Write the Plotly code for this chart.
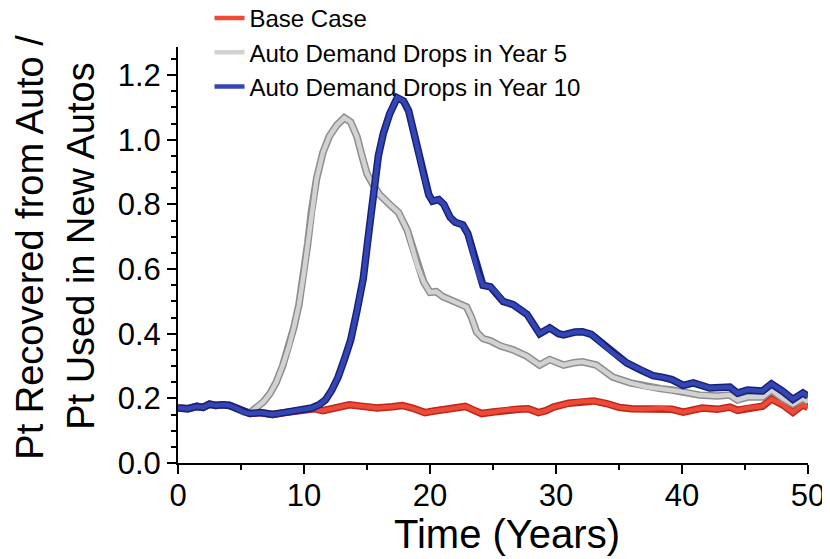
import plotly.graph_objects as go

# ---------------- data ----------------
base_years = [0, 0.8, 1.5, 2.0, 2.5, 3.0, 3.5, 4.1, 4.6, 5.2, 5.7, 6.5, 7.5, 8.3, 9.0, 10.0,
              10.8, 11.5, 12.5, 13.6, 14.5, 15.8, 17.0, 17.8, 18.6, 19.6, 20.2, 21.0, 22.0,
              22.8, 23.5, 24.1, 25.0, 26.0, 27.0, 27.8, 28.6, 29.2, 29.8, 31.0, 32.0, 33.0,
              34.0, 35.0, 36.0, 37.2, 38.3, 39.2, 40.1, 41.0, 41.6, 42.8, 43.8, 44.4, 45.2,
              46.4, 47.1, 48.0, 48.8, 49.6, 50.0]
base_vals = [0.170, 0.168, 0.175, 0.172, 0.182, 0.178, 0.180, 0.178, 0.170, 0.158, 0.153,
             0.156, 0.150, 0.155, 0.158, 0.165, 0.168, 0.162, 0.170, 0.180, 0.176, 0.170,
             0.174, 0.178, 0.170, 0.156, 0.160, 0.166, 0.170, 0.175, 0.163, 0.153, 0.158,
             0.164, 0.166, 0.168, 0.156, 0.162, 0.173, 0.185, 0.190, 0.192, 0.184, 0.172,
             0.168, 0.167, 0.170, 0.166, 0.157, 0.166, 0.170, 0.166, 0.173, 0.163, 0.170,
             0.176, 0.198, 0.180, 0.157, 0.180, 0.172]

y5_years = [0, 0.8, 1.5, 2.0, 2.5, 3.0, 3.5, 4.1, 4.6, 5.2, 5.7, 6.2, 6.8, 7.3, 7.8, 8.3,
            8.8, 9.2, 9.6, 10.0, 10.3, 10.6, 11.0, 11.5, 12.0, 12.6, 13.2, 13.7, 14.2, 14.6,
            15.0, 15.5, 16.0, 16.8, 17.5, 18.2, 18.6, 19.0, 19.5, 20.0, 20.5, 21.0, 21.6,
            22.2, 22.9, 23.3, 23.7, 24.2, 24.8, 25.6, 26.6, 27.7, 28.7, 29.5, 30.6, 31.4,
            32.1, 33.2, 34.5, 35.9, 37.2, 38.3, 39.2, 40.1, 41.4, 42.8, 43.8, 44.4, 45.2,
            46.4, 47.1, 48.0, 48.8, 49.6, 50.0]
y5_vals = [0.170, 0.168, 0.175, 0.172, 0.182, 0.178, 0.180, 0.178, 0.170, 0.158, 0.155,
           0.170, 0.190, 0.215, 0.250, 0.300, 0.360, 0.420, 0.490, 0.590, 0.680, 0.780,
           0.880, 0.960, 1.010, 1.045, 1.068, 1.055, 1.010, 0.950, 0.895, 0.860, 0.830,
           0.800, 0.775, 0.720, 0.670, 0.610, 0.560, 0.528, 0.530, 0.515, 0.505, 0.495,
           0.483, 0.450, 0.405, 0.385, 0.378, 0.362, 0.350, 0.330, 0.303, 0.320, 0.303,
           0.310, 0.313, 0.303, 0.266, 0.248, 0.235, 0.230, 0.226, 0.220, 0.210, 0.207,
           0.210, 0.195, 0.204, 0.204, 0.226, 0.200, 0.182, 0.200, 0.190]

y10_years = [0, 0.8, 1.5, 2.0, 2.5, 3.0, 3.5, 4.1, 4.6, 5.2, 5.7, 6.5, 7.5, 8.3, 9.0, 10.0,
             10.6, 11.2, 11.7, 12.2, 12.7, 13.2, 13.7, 14.2, 14.7, 15.1, 15.5, 15.9, 16.3,
             16.8, 17.4, 17.9, 18.3, 18.7, 19.0, 19.5, 19.9, 20.2, 20.7, 21.1, 21.6, 22.0,
             22.6, 23.0, 23.4, 23.8, 24.2, 24.8, 25.3, 25.8, 26.6, 27.7, 28.7, 29.5, 30.2,
             30.6, 31.5, 32.1, 32.8, 33.5, 34.5, 35.6, 36.7, 37.7, 38.5, 39.2, 40.1, 40.9,
             42.2, 43.8, 44.4, 45.2, 46.4, 47.1, 48.0, 48.8, 49.6, 50.0]
y10_vals = [0.170, 0.168, 0.175, 0.172, 0.182, 0.178, 0.180, 0.178, 0.170, 0.158, 0.153,
            0.156, 0.150, 0.155, 0.158, 0.165, 0.170, 0.180, 0.195, 0.225, 0.265, 0.320,
            0.380, 0.470, 0.570, 0.700, 0.840, 0.950, 1.020, 1.080, 1.130, 1.120, 1.090,
            1.030, 0.975, 0.890, 0.830, 0.810, 0.815, 0.800, 0.760, 0.745, 0.737, 0.710,
            0.650, 0.590, 0.550, 0.545, 0.525, 0.500, 0.490, 0.460, 0.400, 0.418, 0.400,
            0.396, 0.405, 0.406, 0.398, 0.375, 0.340, 0.310, 0.288, 0.270, 0.265, 0.258,
            0.240, 0.248, 0.232, 0.235, 0.216, 0.226, 0.223, 0.245, 0.222, 0.197, 0.217,
            0.207]

series_names = ["Base Case", "Auto Demand Drops in Year 5", "Auto Demand Drops in Year 10"]
x_ticks = [0, 10, 20, 30, 40, 50]
y_ticks = [0.0, 0.2, 0.4, 0.6, 0.8, 1.0, 1.2]

# ---------------- styles ----------------
inner_colors = ["#f04a36", "#d2d2d2", "#3446b4"]
outer_colors = ["#b8281c", "#8e8e8e", "#18217a"]
FONT = "Arial, 'Liberation Sans', sans-serif"

fig = go.Figure()
data = [(base_years, base_vals), (y5_years, y5_vals), (y10_years, y10_vals)]
for (xs, ys), name, ic, oc in zip(data, series_names, inner_colors, outer_colors):
    fig.add_trace(go.Scatter(x=xs, y=ys, mode="lines", showlegend=False, hoverinfo="skip",
                             line=dict(color=oc, width=7.5)))
    fig.add_trace(go.Scatter(x=xs, y=ys, mode="lines", name=name,
                             line=dict(color=ic, width=4.5)))

axis_common = dict(showline=True, linecolor="black", linewidth=2, ticks="outside",
                   ticklen=9, tickwidth=2, tickcolor="black", showgrid=False,
                   zeroline=False, mirror=False,
                   tickfont=dict(family=FONT, size=31, color="black"))

fig.update_xaxes(range=[0, 50], tickvals=x_ticks, ticktext=[str(v) for v in x_ticks],
                 ticklabelstandoff=-5,
                 minor=dict(dtick=5, tick0=0, ticks="outside", ticklen=5, tickwidth=2,
                            tickcolor="black"),
                 **axis_common)
fig.update_yaxes(range=[0, 1.287], tickvals=y_ticks, ticktext=[f"{v:.1f}" for v in y_ticks],
                 minor=dict(dtick=0.05, tick0=0, ticks="outside", ticklen=5, tickwidth=2,
                            tickcolor="black"),
                 **axis_common)

# page has an 8px body margin; figure sized to fill the rest of the window
fig.update_layout(
    width=822, height=551,
    margin=dict(l=170, r=22, t=39, b=96, autoexpand=False),
    paper_bgcolor="white", plot_bgcolor="white",
    font=dict(family=FONT, color="black"),
    showlegend=True,
    legend=dict(x=0.05, y=1.1226, xanchor="left", yanchor="top",
                bgcolor="rgba(0,0,0,0)", font=dict(family=FONT, size=24, color="black"),
                itemwidth=30, traceorder="normal"),
    annotations=[
        dict(text="Pt Recovered from Auto /", xref="paper", yref="paper",
             x=-0.234, y=0.519, xanchor="center", yanchor="middle", textangle=-90,
             showarrow=False, font=dict(family=FONT, size=38, color="black")),
        dict(text="Pt Used in New Autos", xref="paper", yref="paper",
             x=-0.154, y=0.522, xanchor="center", yanchor="middle", textangle=-90,
             showarrow=False, font=dict(family=FONT, size=38, color="black")),
        dict(text="Time (Years)", xref="paper", yref="paper",
             x=0.522, y=-0.1715, xanchor="center", yanchor="middle",
             showarrow=False, font=dict(family=FONT, size=40, color="black")),
    ],
)

fig.write_html("out.html")
